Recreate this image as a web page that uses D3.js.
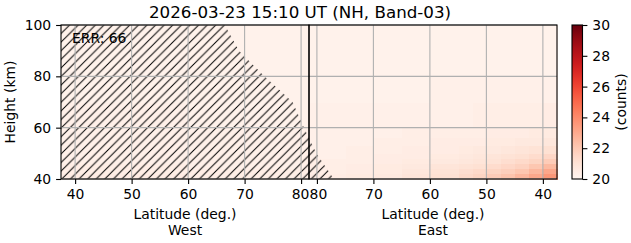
<!DOCTYPE html>
<html>
<head>
<meta charset="utf-8">
<script src="https://cdn.jsdelivr.net/npm/d3@7"></script>
<style>
  body { margin: 0; background: #fff; }
  text { font-family: "DejaVu Sans", sans-serif; fill: #000; }
</style>
</head>
<body>
<svg id="chart" width="631" height="243"></svg>
<script>
// --- Data ---
const title = "2026-03-23 15:10 UT (NH, Band-03)";
const errLabel = "ERR: 66";
const latTicks = [40, 50, 60, 70, 80];
const kmTicks = [40, 60, 80, 100];
const cbTicks = [20, 22, 24, 26, 28, 30];

// cell edges (latitude, deg.) from 37.5 up to the turn-over latitude 81.4
const latEdges = [37.5, 40, 42.5, 45, 47.5, 50, 52.5, 55, 60, 65, 70, 75, 81.4];
// cell edges (height, km)
const kmEdges = [40, 42, 44, 46, 48, 50, 53, 56, 60, 70, 80, 90, 100];

// counts, one row per height band (bottom first), one column per latitude band
const countsWest = [
  [20.5, 20.5, 20.5, 20.5, 20.5, 20.5, 20.5, 20.5, 20.4, 20.4, 20.4, 20.4],
  [20.4, 20.4, 20.4, 20.4, 20.4, 20.4, 20.4, 20.4, 20.4, 20.4, 20.4, 20.4],
  [20.4, 20.4, 20.4, 20.4, 20.4, 20.4, 20.4, 20.4, 20.3, 20.3, 20.3, 20.3],
  [20.3, 20.3, 20.3, 20.3, 20.3, 20.3, 20.3, 20.3, 20.3, 20.3, 20.3, 20.3],
  [20.3, 20.3, 20.3, 20.3, 20.3, 20.3, 20.3, 20.3, 20.3, 20.3, 20.3, 20.3],
  [20.3, 20.3, 20.3, 20.3, 20.3, 20.3, 20.3, 20.3, 20.3, 20.3, 20.3, 20.3],
  [20.3, 20.3, 20.3, 20.3, 20.3, 20.3, 20.3, 20.3, 20.3, 20.3, 20.3, 20.3],
  [20.3, 20.3, 20.3, 20.3, 20.3, 20.3, 20.3, 20.3, 20.3, 20.3, 20.3, 20.3],
  [20.3, 20.3, 20.3, 20.3, 20.3, 20.3, 20.3, 20.3, 20.2, 20.2, 20.2, 20.2],
  [20.2, 20.2, 20.2, 20.2, 20.2, 20.2, 20.2, 20.2, 20.2, 20.2, 20.2, 20.2],
  [20.2, 20.2, 20.2, 20.2, 20.2, 20.2, 20.2, 20.2, 20.2, 20.2, 20.2, 20.2],
  [20.2, 20.2, 20.2, 20.2, 20.2, 20.2, 20.2, 20.2, 20.2, 20.2, 20.2, 20.2]
];
const countsEast = [
  [23.6, 23.1, 22.6, 22.2, 21.9, 21.6, 21.4, 21.1, 20.9, 20.7, 20.6, 20.5],
  [23.1, 22.6, 22.1, 21.8, 21.6, 21.4, 21.2, 21.0, 20.8, 20.6, 20.5, 20.4],
  [22.5, 22.1, 21.7, 21.5, 21.3, 21.1, 21.0, 20.9, 20.7, 20.6, 20.5, 20.4],
  [21.9, 21.6, 21.4, 21.2, 21.0, 20.9, 20.8, 20.7, 20.6, 20.5, 20.4, 20.4],
  [21.5, 21.3, 21.1, 21.0, 20.9, 20.8, 20.7, 20.6, 20.5, 20.5, 20.4, 20.3],
  [21.1, 21.0, 20.9, 20.8, 20.7, 20.7, 20.6, 20.5, 20.5, 20.4, 20.4, 20.3],
  [20.8, 20.7, 20.7, 20.6, 20.6, 20.5, 20.5, 20.5, 20.4, 20.4, 20.3, 20.3],
  [20.6, 20.6, 20.5, 20.5, 20.5, 20.4, 20.4, 20.4, 20.4, 20.3, 20.3, 20.3],
  [20.5, 20.4, 20.4, 20.4, 20.4, 20.4, 20.3, 20.3, 20.3, 20.3, 20.3, 20.3],
  [20.3, 20.3, 20.3, 20.3, 20.3, 20.3, 20.3, 20.3, 20.2, 20.2, 20.2, 20.2],
  [20.2, 20.2, 20.2, 20.2, 20.2, 20.2, 20.2, 20.2, 20.2, 20.2, 20.2, 20.2],
  [20.2, 20.2, 20.2, 20.2, 20.2, 20.2, 20.2, 20.2, 20.2, 20.2, 20.2, 20.2]
];

// edge of the hatched (no data) region
const hatchKm   = [100,  90,   80,   70,   60,   50,   40];
const hatchLat  = [66.5, 69.0, 73.5, 78.5, 80.5, 80.1, 77.0];
const hatchSide = ["W",  "W",  "W",  "W",  "W",  "E",  "E"];

// --- Layout ---
const svg = d3.select("#chart");
const M = { left: 61, mid: 309, right: 557, top: 25, bottom: 179 };
const FS = 13.9;

const xW = d3.scaleLinear().domain([37.5, 81.4]).range([M.left, M.mid]);
const xE = d3.scaleLinear().domain([81.4, 37.5]).range([M.mid, M.right]);
const y = d3.scaleLinear().domain([40, 100]).range([M.bottom, M.top]);
const color = d3.scaleSequential(d3.interpolateReds).domain([20, 30]);
const xOf = (side, lat) => side === "W" ? xW(lat) : xE(lat);

// --- Heatmap cells ---
const cells = [];
[["W", countsWest], ["E", countsEast]].forEach(([side, grid]) => {
  grid.forEach((row, j) => {
    row.forEach((v, i) => {
      const xa = xOf(side, latEdges[i]), xb = xOf(side, latEdges[i + 1]);
      cells.push({ x0: Math.min(xa, xb), x1: Math.max(xa, xb), y0: y(kmEdges[j + 1]), y1: y(kmEdges[j]), v });
    });
  });
});

svg.append("g").selectAll("rect").data(cells).join("rect")
  .attr("x", d => d.x0).attr("y", d => d.y0)
  .attr("width", d => d.x1 - d.x0 + 0.5).attr("height", d => d.y1 - d.y0 + 0.5)
  .attr("fill", d => color(d.v))
  .attr("shape-rendering", "crispEdges");

// --- Hatch ---
const defs = svg.append("defs");
const hs = 8.6;
defs.append("pattern")
  .attr("id", "hatch").attr("patternUnits", "userSpaceOnUse")
  .attr("width", hs).attr("height", hs)
  .append("path")
  .attr("d", `M0,${hs} L${hs},0 M${-hs / 2},${hs / 2} L${hs / 2},${-hs / 2} M${hs / 2},${hs * 1.5} L${hs * 1.5},${hs / 2}`)
  .attr("stroke", "#000").attr("stroke-width", 1.0);

defs.append("clipPath").attr("id", "plotclip")
  .append("rect").attr("x", M.left).attr("y", M.top)
  .attr("width", M.right - M.left).attr("height", M.bottom - M.top);

const hatchPts = [[xW(37.5), y(100)]]
  .concat(hatchKm.map((k, i) => [xOf(hatchSide[i], hatchLat[i]), y(k)]))
  .concat([[xW(37.5), y(40)]]);

svg.append("path")
  .attr("d", d3.line()(hatchPts) + "Z")
  .attr("fill", "url(#hatch)")
  .attr("clip-path", "url(#plotclip)");

// --- Grid ---
const grid = svg.append("g").attr("stroke", "#b0b0b0").attr("stroke-width", 1.1);
[xW, xE].forEach(sc => {
  grid.selectAll(null).data(latTicks).join("line")
    .attr("x1", d => sc(d)).attr("x2", d => sc(d))
    .attr("y1", M.top).attr("y2", M.bottom);
});
grid.selectAll(null).data(kmTicks).join("line")
  .attr("x1", M.left).attr("x2", M.right)
  .attr("y1", d => y(d)).attr("y2", d => y(d));

// --- Spines ---
[[M.left, M.mid], [M.mid, M.right]].forEach(([a, b]) => {
  svg.append("rect").attr("x", a).attr("y", M.top)
    .attr("width", b - a).attr("height", M.bottom - M.top)
    .attr("fill", "none").attr("stroke", "#000").attr("stroke-width", 1.1);
});

// --- Axes ---
function styleAxis(g) {
  g.select(".domain").remove();
  g.selectAll("line").attr("stroke", "#000").attr("stroke-width", 1.1);
  g.selectAll("text").attr("font-size", FS).attr("font-family", "DejaVu Sans");
}
[[xW, -1], [xE, 1]].forEach(([sc, nudge]) => {
  svg.append("g").attr("transform", `translate(0,${M.bottom})`)
    .call(d3.axisBottom(sc).tickValues(latTicks).tickSize(4.9).tickPadding(4.9))
    .call(styleAxis)
    .selectAll("text").filter(d => d === 80).attr("dx", nudge);
});
svg.append("g").attr("transform", `translate(${M.left},0)`)
  .call(d3.axisLeft(y).tickValues(kmTicks).tickSize(4.9).tickPadding(4.9))
  .call(styleAxis);

// --- Labels ---
[["West", (M.left + M.mid) / 2], ["East", (M.mid + M.right) / 2]].forEach(([side, cx]) => {
  svg.append("text").attr("x", cx).attr("y", 219).attr("text-anchor", "middle")
    .attr("font-size", FS).text("Latitude (deg.)");
  svg.append("text").attr("x", cx).attr("y", 235).attr("text-anchor", "middle")
    .attr("font-size", FS).text(side);
});

svg.append("text").attr("transform", `translate(15,${(M.top + M.bottom) / 2}) rotate(-90)`)
  .attr("text-anchor", "middle").attr("font-size", FS).text("Height (km)");

svg.append("text").attr("x", 300).attr("y", 17.5).attr("text-anchor", "middle")
  .attr("font-size", 16.7).text(title);

svg.append("text").attr("x", 72).attr("y", 43).attr("font-size", FS).text(errLabel);

// --- Colorbar ---
const cb = { x: 572, w: 10.5 };
const cbY = d3.scaleLinear().domain([20, 30]).range([M.bottom, M.top]);
const grad = defs.append("linearGradient").attr("id", "cbgrad")
  .attr("x1", 0).attr("y1", 1).attr("x2", 0).attr("y2", 0);
d3.range(0, 1.0001, 0.05).forEach(t => {
  grad.append("stop").attr("offset", t).attr("stop-color", d3.interpolateReds(t));
});
svg.append("rect").attr("x", cb.x).attr("y", M.top)
  .attr("width", cb.w).attr("height", M.bottom - M.top)
  .attr("fill", "url(#cbgrad)").attr("stroke", "#000").attr("stroke-width", 1.1);
svg.append("g").attr("transform", `translate(${cb.x + cb.w},0)`)
  .call(d3.axisRight(cbY).tickValues(cbTicks).tickSize(4.9).tickPadding(4.9))
  .call(styleAxis);
svg.append("text").attr("transform", `translate(626,${(M.top + M.bottom) / 2}) rotate(-90)`)
  .attr("text-anchor", "middle").attr("font-size", FS).text("(counts)");
</script>
</body>
</html>
